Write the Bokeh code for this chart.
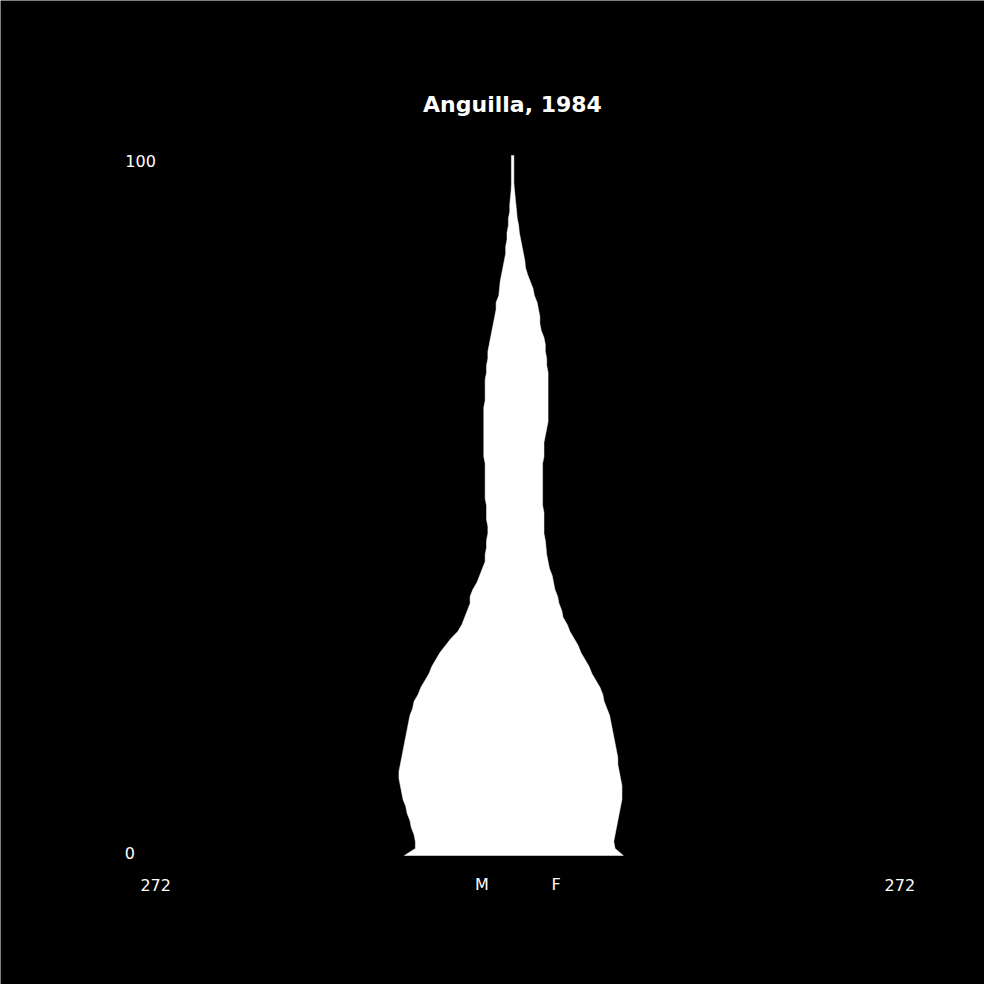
from bokeh.plotting import figure
from bokeh.core.properties import value
from bokeh.embed import file_html
from bokeh.resources import INLINE

title_text = "Anguilla, 1984"
ages = list(range(0, 101))
male = [79, 71, 71, 72, 74, 75, 77, 78, 80, 81,
        82, 83, 83, 82, 81, 80, 79, 78, 77, 76,
        75, 73, 72, 69, 67, 64, 61, 59, 56, 53,
        49, 45, 40, 37, 35, 33, 31, 31, 29, 26,
        24, 22, 20, 20, 19, 19, 18, 18, 19, 19,
        19, 20, 20, 20, 20, 20, 20, 21, 21, 21,
        21, 21, 21, 21, 21, 20, 20, 20, 20, 19,
        19, 18, 18, 17, 16, 15, 14, 13, 12, 12,
        10, 9.5, 9, 8, 7, 6, 5, 5, 4, 4,
        3, 3, 2, 2, 1.5, 1, 0.8, 0.8, 0.8, 0.8,
        0.8]
female = [81, 75, 74, 75, 76, 77, 78, 79, 80, 80,
          80, 79, 78, 77, 77, 76, 75, 74, 73, 72,
          71, 69, 67, 66, 64, 61, 58, 56, 53, 50,
          48, 45, 42, 40, 37, 36, 34, 33, 31, 30,
          29, 27, 26, 25, 24.5, 24, 23, 23, 23, 23,
          22, 22, 22, 22, 22, 22, 22, 23, 23, 23,
          24, 25, 26, 26, 26, 26, 26, 26, 26, 26,
          25, 25, 24, 24, 23, 21, 20, 20, 19, 18,
          16, 15, 13, 11, 9.5, 9, 8, 7, 6, 5,
          4.5, 3.5, 3, 2.5, 2, 1.5, 1, 1, 1, 1,
          1]
x_max = 272
y_ticks = [0, 100]
sex_labels = ["M", "F"]

W, H = 984, 984
# pixel mapping: x_px = 512 + 1.368*v ; y_px = 855 - 7*age
sx, cx = 1.368, 512.0
sy, cy = 7.0, 855.0
p = figure(width=W, height=H,
           x_range=(-cx / sx, (W - cx) / sx),
           y_range=((cy - H) / sy, cy / sy),
           output_backend="svg", toolbar_location=None, title=None,
           min_border=0)
p.background_fill_color = "black"
p.border_fill_color = "black"
p.outline_line_color = None
p.axis.visible = False
p.grid.visible = False

xs = [-m for m in male] + female[::-1]
ys = ages + ages[::-1]
p.patch(xs, ys, fill_color="white", line_color="white", line_width=0.5)

font = value("DejaVu Sans")
p.text(x=[0], y=[107.25], text=[title_text], text_color="white",
       text_font=font, text_font_size="22px", text_font_style="bold",
       text_align="center", text_baseline="middle")
p.text(x=[-283.5], y=[0.29], text=[str(y_ticks[0])], text_color="white",
       text_font=font, text_font_size="16px",
       text_align="left", text_baseline="middle")
p.text(x=[-283], y=[100.14], text=[str(y_ticks[1])], text_color="white",
       text_font=font, text_font_size="16px",
       text_align="left", text_baseline="top")
p.text(x=[-x_max, x_max, -27.5, 28.5], y=[-4.16] * 4,
       text=[str(x_max), str(x_max)] + sex_labels, text_color="white",
       text_font=font, text_font_size="16px",
       text_align="left", text_baseline="middle")

open("out.html", "w").write(file_html(p, INLINE))
